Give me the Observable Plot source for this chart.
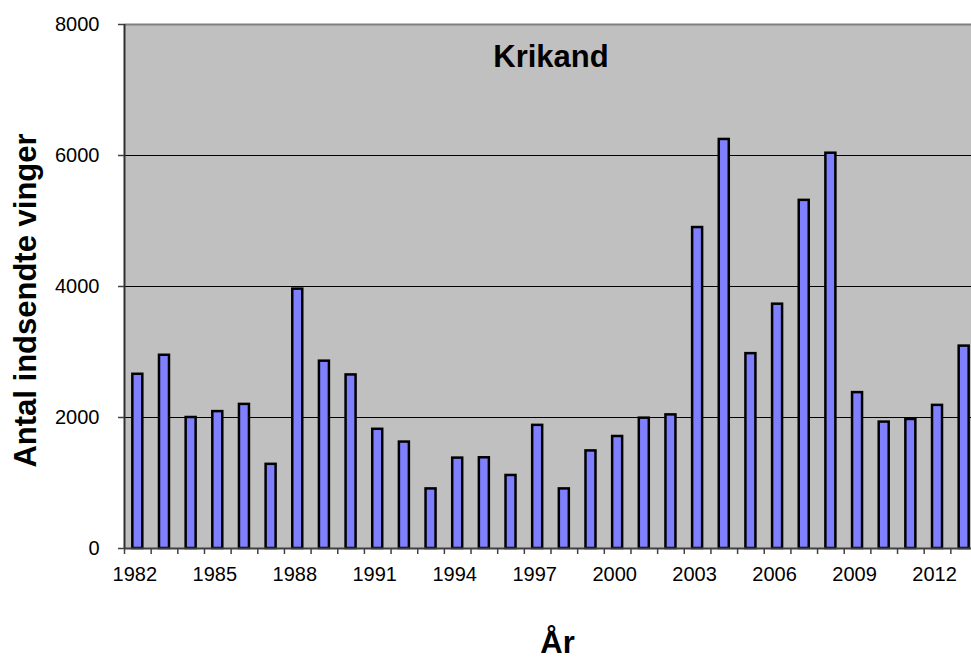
<!DOCTYPE html>
<html>
<head>
<meta charset="utf-8">
<script src="https://cdn.jsdelivr.net/npm/d3@7"></script>
<script src="https://cdn.jsdelivr.net/npm/@observablehq/plot@0.6"></script>
<style>
  html, body { margin: 0; padding: 0; background: #fff; overflow: hidden; }
  svg { max-width: none !important; display: block; }
</style>
</head>
<body>
<div id="chart"></div>
<script>
const years = [1982,1983,1984,1985,1986,1987,1988,1989,1990,1991,1992,1993,1994,1995,1996,1997,
               1998,1999,2000,2001,2002,2003,2004,2005,2006,2007,2008,2009,2010,2011,2012,2013];
const values = [2660,2950,2000,2090,2200,1285,3960,2860,2650,1820,1625,910,1380,1385,1115,1880,
                910,1490,1710,1990,2040,4900,6245,2975,3730,5315,6035,2380,1930,1970,2185,3090];
const yTicks = [0,2000,4000,6000,8000];
const gridValues = [2000,4000,6000];
const xTickLabels = [1982,1985,1988,1991,1994,1997,2000,2003,2006,2009,2012];
const title = "Krikand";
const yLabel = "Antal indsendte vinger";
const xLabel = "År";

const data = years.map((y, i) => ({year: y, value: values[i]}));

const W = 980, H = 661;
const mL = 124, mR = 3, mT = 24, mB = 113;
const bw = (W - mL - mR) / years.length;
const font = "'Liberation Sans', Arial, Helvetica, sans-serif";

const chart = Plot.plot({
  width: W,
  height: H,
  marginLeft: mL,
  marginRight: mR,
  marginTop: mT,
  marginBottom: mB,
  style: {fontFamily: font, background: "white", overflow: "visible"},
  x: {type: "band", domain: years, padding: 0, round: false, axis: null},
  y: {domain: [0, 8000], axis: null},
  marks: [
    Plot.frame({fill: "#C0C0C0", stroke: null}),
    Plot.ruleY(gridValues, {stroke: "#000", strokeWidth: 1}),
    Plot.ruleY([8000], {stroke: "#808080", strokeWidth: 2}),
    Plot.barY(data, {x: "year", y: "value", fill: "#8080FF", stroke: "#000", strokeWidth: 2.5,
                     insetLeft: (bw - 10) / 2, insetRight: (bw - 10) / 2}),
    Plot.ruleY([0], {stroke: "#404040", strokeWidth: 2}),
    Plot.ruleX([years[0]], {y1: 0, y2: 8000, dx: -bw / 2, stroke: "#303030", strokeWidth: 2}),
    Plot.axisY(yTicks, {tickSize: 6, tickPadding: 19, fontSize: 20, stroke: "#404040", color: "#000", strokeWidth: 1.5, tickFormat: d => String(d), label: null}),
    Plot.axisX(years, {tickSize: 6, tickFormat: () => "", dx: -bw / 2, stroke: "#404040", strokeWidth: 1.5, label: null}),
    Plot.axisX(xTickLabels, {tickSize: 0, tickPadding: 18.5, fontSize: 20, dx: -3, tickFormat: d => String(d), label: null, color: "#000"}),
    Plot.text([title], {frameAnchor: "top", lineAnchor: "top", dy: 20, fontSize: 31, fontWeight: "bold", fill: "#000"}),
    Plot.text([yLabel], {frameAnchor: "left", rotate: -90, lineAnchor: "bottom", dx: -89, dy: 14, fontSize: 31, fontWeight: "bold", fill: "#000", textAnchor: "middle"}),
    Plot.text([xLabel], {frameAnchor: "bottom", lineAnchor: "bottom", dx: 6.5, dy: 104, fontSize: 31, fontWeight: "bold", fill: "#000"})
  ]
});
document.getElementById("chart").appendChild(chart);
</script>
</body>
</html>
